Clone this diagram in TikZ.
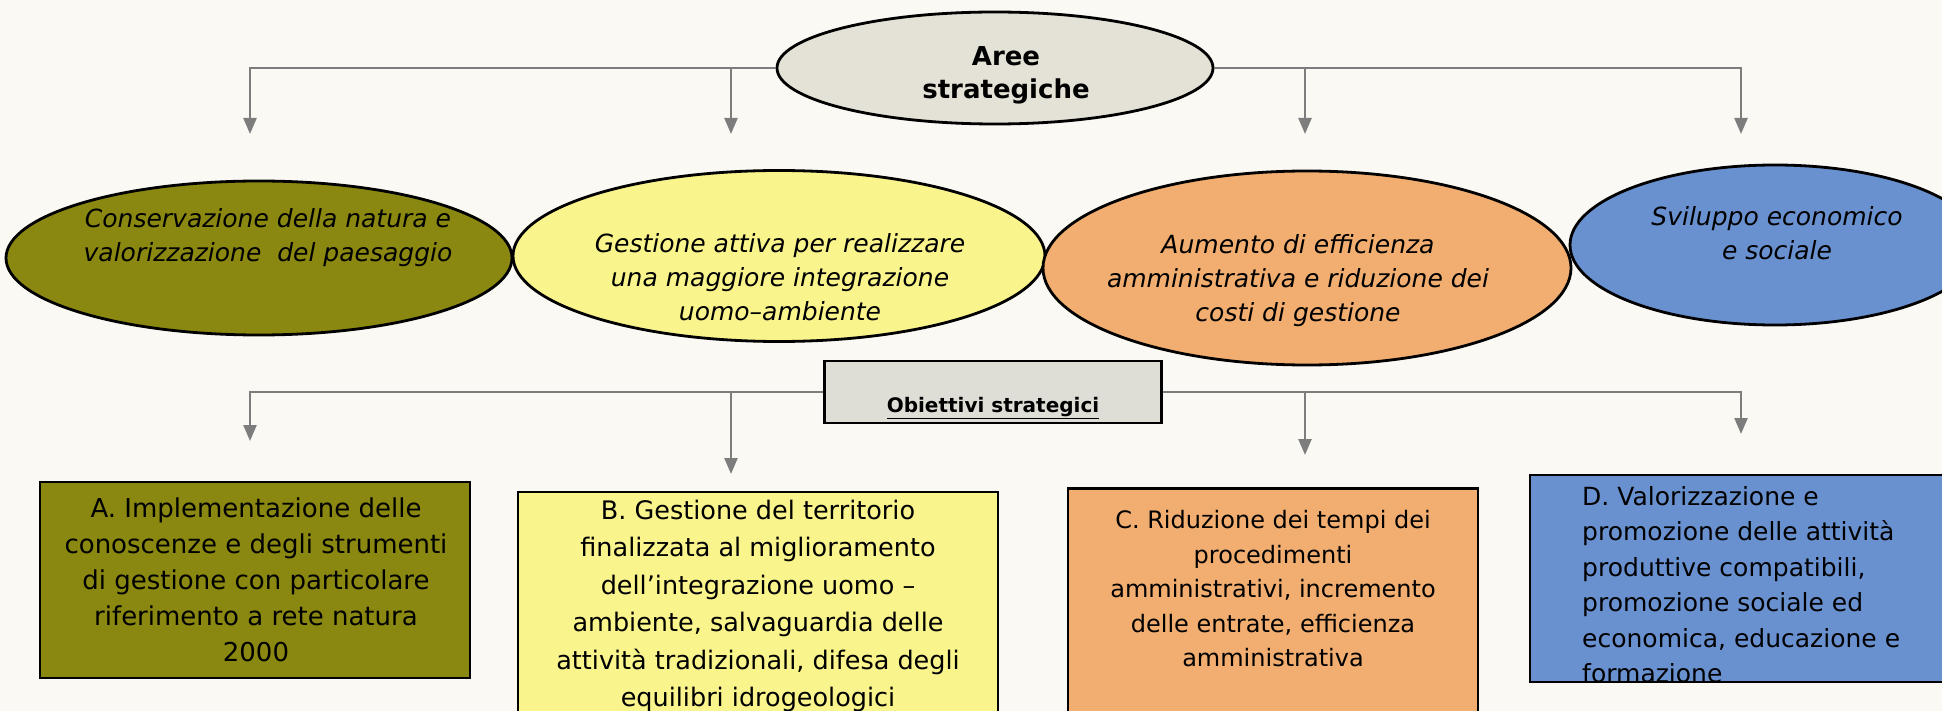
\documentclass[tikz,border=0pt]{standalone}
\usepackage{fontspec}
\setmainfont{DejaVu Sans}
\usetikzlibrary{shapes.geometric,arrows.meta}
\definecolor{bg}{RGB}{250,249,243}
\definecolor{linegray}{RGB}{125,125,125}
\definecolor{topfill}{RGB}{228,226,214}
\definecolor{objfill}{RGB}{222,222,214}
\definecolor{olivec}{RGB}{138,136,16}
\definecolor{yellowc}{RGB}{250,244,140}
\definecolor{orangec}{RGB}{241,174,112}
\definecolor{bluec}{RGB}{105,145,208}
\begin{document}
\begin{tikzpicture}[x=1pt,y=-1pt,
  conn/.style={draw=linegray,line width=2.4pt,-{Triangle[length=16pt,width=13pt]}},
  ell/.style={ellipse,draw=black,line width=2.8pt,inner sep=0pt},
  boxs/.style={rectangle,draw=black,line width=2.8pt,inner sep=0pt},
  etext/.style={align=center,font=\fontsize{25}{34}\selectfont\itshape,inner sep=0pt},
  btext/.style={align=center,inner sep=0pt}]
\useasboundingbox (0,0) rectangle (1942,711);
\fill[bg] (0,0) rectangle (1942,711);

% top ellipse
\node[ell,fill=topfill,minimum width=436pt,minimum height=112pt] (top) at (995,68) {};
\node[align=center,inner sep=0pt,font=\fontsize{26}{33}\selectfont\bfseries] (topT) at (1006,75) {Aree\\strategiche};

% arrow end points
\coordinate (a1) at (250,134);
\coordinate (a2) at (731,134);
\coordinate (a3) at (1305,134);
\coordinate (a4) at (1741,134);
\draw[conn] (top.west) -| (a1);
\draw[conn] (top.west -| a2) -- (a2);
\draw[conn] (top.east) -| (a4);
\draw[conn] (top.east -| a3) -- (a3);

% strategic areas
\node[ell,fill=olivec,minimum width=506pt,minimum height=154pt] (e1) at (259,258) {};
\node[etext] (e1T) at (268,238) {Conservazione della natura e\\valorizzazione\ \ del paesaggio};
\node[ell,fill=yellowc,minimum width=532pt,minimum height=171pt] (e2) at (779,256) {};
\node[etext] (e2T) at (780,277) {Gestione attiva per realizzare\\una maggiore integrazione\\uomo–ambiente};
\node[ell,fill=orangec,minimum width=528pt,minimum height=194pt] (e3) at (1307,268) {};
\node[etext] (e3T) at (1298,281) {Aumento di efficienza\\amministrativa e riduzione dei\\costi di gestione};
\node[ell,fill=bluec,minimum width=410pt,minimum height=160pt] (e4) at (1775,245) {};
\node[etext] (e4T) at (1777,233) {Sviluppo economico\\e sociale};

% objectives box
\node[boxs,fill=objfill,minimum width=337pt,minimum height=62pt] (obj) at (993,392) {};
\node[inner sep=0pt,font=\fontsize{20}{24}\selectfont\bfseries] (objT) at (993,408) {\underline{Obiettivi strategici}};

\coordinate (b1) at (250,441);
\coordinate (b2) at (731,474);
\coordinate (b3) at (1305,455);
\coordinate (b4) at (1741,434);
\draw[conn] (obj.west) -| (b1);
\draw[conn] (obj.west -| b2) -- (b2);
\draw[conn] (obj.east) -| (b4);
\draw[conn] (obj.east -| b3) -- (b3);

% objective boxes
\node[boxs,fill=olivec,minimum width=430pt,minimum height=196pt] (bA) at (255,580) {};
\node[btext,font=\fontsize{26}{36}\selectfont] (bAT) at (256,580) {A. Implementazione delle\\conoscenze e degli strumenti\\di gestione con particolare\\riferimento a rete natura\\2000};
\node[boxs,fill=yellowc,minimum width=480pt,minimum height=288pt] (bB) at (758,636) {};
\node[btext,font=\fontsize{25.5}{37.5}\selectfont] (bBT) at (758,606) {B. Gestione del territorio\\finalizzata al miglioramento\\dell’integrazione uomo –\\ambiente, salvaguardia delle\\attività tradizionali, difesa degli\\equilibri idrogeologici};
\node[boxs,fill=orangec,minimum width=410pt,minimum height=291pt] (bC) at (1273,634) {};
\node[btext,font=\fontsize{24}{34.5}\selectfont] (bCT) at (1273,589) {C. Riduzione dei tempi dei\\procedimenti\\amministrativi, incremento\\delle entrate, efficienza\\amministrativa};
\node[boxs,fill=bluec,minimum width=460pt,minimum height=207pt] (bD) at (1760,578.5) {};
\node[inner sep=0pt,align=left,anchor=north west,font=\fontsize{25}{35.5}\selectfont] (bDT) at (1582,486) {D. Valorizzazione e\\promozione delle attività\\produttive compatibili,\\promozione sociale ed\\economica, educazione e\\formazione};
\end{tikzpicture}
\end{document}
